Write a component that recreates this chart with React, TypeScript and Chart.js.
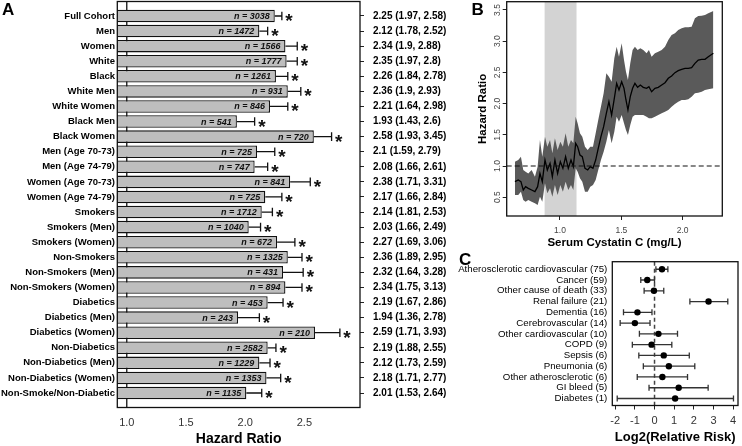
import React, { useEffect, useRef } from 'react';
import { Chart, registerables } from 'chart.js';

Chart.register(...registerables);

const FONT = '"Liberation Sans", Arial, Helvetica, sans-serif';

// ---------- Panel A ----------
const groups = [
  'Full Cohort', 'Men', 'Women', 'White', 'Black', 'White Men', 'White Women', 'Black Men', 'Black Women',
  'Men (Age 70-73)', 'Men (Age 74-79)', 'Women (Age 70-73)', 'Women (Age 74-79)', 'Smokers', 'Smokers (Men)',
  'Smokers (Women)', 'Non-Smokers', 'Non-Smokers (Men)', 'Non-Smokers (Women)', 'Diabetics', 'Diabetics (Men)',
  'Diabetics (Women)', 'Non-Diabetics', 'Non-Diabetics (Men)', 'Non-Diabetics (Women)', 'Non-Smoke/Non-Diabetic',
];
const groupN = [3038, 1472, 1566, 1777, 1261, 931, 846, 541, 720, 725, 747, 841, 725, 1712, 1040, 672, 1325, 431, 894, 453, 243, 210, 2582, 1229, 1353, 1135];
const hazardRatio = [2.25, 2.12, 2.34, 2.35, 2.26, 2.36, 2.21, 1.93, 2.58, 2.1, 2.08, 2.38, 2.17, 2.14, 2.03, 2.27, 2.36, 2.32, 2.34, 2.19, 1.94, 2.59, 2.19, 2.12, 2.18, 2.01];
const ciLower = [1.97, 1.78, 1.9, 1.97, 1.84, 1.9, 1.64, 1.43, 1.93, 1.59, 1.66, 1.71, 1.66, 1.81, 1.66, 1.69, 1.89, 1.64, 1.75, 1.67, 1.36, 1.71, 1.88, 1.73, 1.71, 1.53];
const ciUpper = [2.58, 2.52, 2.88, 2.8, 2.78, 2.93, 2.98, 2.6, 3.45, 2.79, 2.61, 3.31, 2.84, 2.53, 2.49, 3.06, 2.95, 3.28, 3.13, 2.86, 2.78, 3.93, 2.55, 2.59, 2.77, 2.64];
const errorTop = [2.31, 2.19, 2.44, 2.44, 2.36, 2.47, 2.36, 2.08, 2.73, 2.25, 2.19, 2.55, 2.31, 2.23, 2.13, 2.42, 2.48, 2.49, 2.48, 2.32, 2.12, 2.8, 2.26, 2.21, 2.3, 2.14];
const sigMarks = groups.map(() => '*');
const hrTicksA = [1.0, 1.5, 2.0, 2.5];

// ---------- Panel B ----------
const cystatin = [0.633, 0.660, 0.682, 0.701, 0.720, 0.742, 0.769, 0.796, 0.818, 0.837, 0.856, 0.878, 0.897, 0.919, 0.938, 0.959, 0.981, 1.003, 1.024, 1.046, 1.068, 1.090, 1.109, 1.128, 1.144, 1.163, 1.182, 1.204, 1.226, 1.247, 1.269, 1.291, 1.312, 1.334, 1.356, 1.378, 1.399, 1.421, 1.443, 1.462, 1.481, 1.503, 1.522, 1.538, 1.554, 1.573, 1.592, 1.611, 1.633, 1.655, 1.679, 1.706, 1.725, 1.747, 1.774, 1.801, 1.829, 1.856, 1.883, 1.910, 1.937, 1.964, 1.992, 2.019, 2.046, 2.073, 2.100, 2.127, 2.155, 2.182, 2.209, 2.250];
const hrCurve = [0.75, 0.776, 0.75, 0.615, 0.669, 0.642, 0.615, 0.589, 0.669, 0.882, 0.75, 1.096, 0.936, 1.043, 0.829, 1.096, 0.882, 1.069, 0.963, 1.15, 0.963, 1.096, 0.989, 1.363, 1.31, 1.176, 1.15, 0.963, 0.936, 0.989, 0.963, 1.096, 1.283, 1.47, 1.63, 1.844, 2.031, 1.817, 2.084, 2.325, 2.218, 2.351, 2.245, 2.058, 1.897, 2.111, 2.245, 2.325, 2.261, 2.298, 2.261, 2.245, 2.271, 2.191, 2.245, 2.261, 2.298, 2.335, 2.405, 2.442, 2.496, 2.528, 2.549, 2.565, 2.565, 2.576, 2.645, 2.699, 2.709, 2.709, 2.752, 2.806];
const hrCurveUpper = [1.069, 1.096, 1.15, 0.936, 0.909, 0.882, 0.936, 0.829, 0.989, 1.417, 1.15, 1.47, 1.31, 1.417, 1.203, 1.443, 1.256, 1.39, 1.31, 1.524, 1.31, 1.417, 1.363, 1.791, 1.684, 1.524, 1.47, 1.31, 1.256, 1.31, 1.31, 1.524, 1.737, 1.951, 2.165, 2.485, 2.432, 2.351, 2.725, 2.912, 2.752, 2.966, 2.699, 2.512, 2.378, 2.645, 2.859, 2.912, 2.859, 2.886, 2.859, 2.806, 2.859, 2.752, 2.806, 2.832, 2.859, 2.912, 3.019, 3.099, 3.126, 3.179, 3.206, 3.222, 3.222, 3.233, 3.366, 3.404, 3.409, 3.42, 3.447, 3.484];
const hrCurveLower = [0.535, 0.535, 0.589, 0.455, 0.428, 0.455, 0.428, 0.402, 0.375, 0.509, 0.428, 0.722, 0.562, 0.642, 0.509, 0.696, 0.535, 0.696, 0.589, 0.749, 0.615, 0.696, 0.615, 0.963, 0.909, 0.802, 0.749, 0.589, 0.589, 0.669, 0.696, 0.776, 0.936, 1.096, 1.23, 1.39, 1.577, 1.363, 1.55, 1.791, 1.71, 1.817, 1.684, 1.577, 1.497, 1.657, 1.791, 1.817, 1.817, 1.817, 1.817, 1.791, 1.764, 1.764, 1.791, 1.817, 1.844, 1.871, 1.897, 1.951, 1.994, 2.031, 2.058, 2.058, 2.068, 2.111, 2.165, 2.175, 2.191, 2.218, 2.229, 2.245];
const refRange = [0.875, 1.135];
const cysTicks = [1.0, 1.5, 2.0];
const hrTicksB = [0.5, 1.0, 1.5, 2.0, 2.5, 3.0, 3.5];
const hrRefLine = 1.0;

// ---------- Panel C ----------
const causes = [
  'Atherosclerotic cardiovascular (75)', 'Cancer (59)', 'Other cause of death (33)', 'Renal failure (21)',
  'Dementia (16)', 'Cerebrovascular (14)', 'Other cardiovascular (10)', 'COPD (9)', 'Sepsis (6)',
  'Pneumonia (6)', 'Other atherosclerotic (6)', 'GI bleed (5)', 'Diabetes (1)',
];
const log2RR = [0.38, -0.37, -0.03, 2.75, -0.87, -1.0, 0.2, -0.15, 0.47, 0.73, 0.4, 1.23, 1.05];
const log2Lo = [0.07, -0.7, -0.53, 1.8, -1.58, -1.75, -0.77, -1.13, -0.8, -0.57, -0.88, -0.28, -1.9];
const log2Hi = [0.68, 0.0, 0.47, 3.73, -0.13, -0.23, 1.17, 0.88, 1.77, 2.05, 1.68, 2.73, 4.02];
const log2Ticks = [-2, -1, 0, 1, 2, 3, 4];
const log2Ref = 0;

const ciLabels = hazardRatio.map((v, i) => `${v} (${ciLower[i]}, ${ciUpper[i]})`);

const fixV = (w: number) => (s: any) => { s.width = w; s.paddingTop = 0; s.paddingBottom = 0; };
const fixH = (h: number) => (s: any) => { s.height = h; s.paddingLeft = 0; s.paddingRight = 0; };

function buildA(canvas: HTMLCanvasElement) {
  const plugin = {
    id: 'panelA',
    beforeDatasetsDraw(chart: any) {
      const { ctx, chartArea: a, scales } = chart;
      const px = scales.x.getPixelForValue(1.0);
      ctx.save();
      ctx.strokeStyle = '#111';
      ctx.lineWidth = 1.3;
      ctx.beginPath();
      ctx.moveTo(px, a.top);
      ctx.lineTo(px, a.bottom);
      ctx.stroke();
      ctx.restore();
    },
    afterDatasetsDraw(chart: any) {
      const { ctx, chartArea: a, scales } = chart;
      const x = scales.x, y = scales.y;
      ctx.save();
      groups.forEach((_, i) => {
        const yc = y.getPixelForValue(i + 1);
        const xe = x.getPixelForValue(hazardRatio[i]);
        const xc = x.getPixelForValue(errorTop[i]);
        ctx.strokeStyle = '#111';
        ctx.lineWidth = 1.3;
        ctx.beginPath();
        ctx.moveTo(xe, yc);
        ctx.lineTo(xc, yc);
        ctx.moveTo(xc, yc - 4.3);
        ctx.lineTo(xc, yc + 4.3);
        ctx.stroke();
        ctx.fillStyle = '#111';
        ctx.font = `italic bold 9px ${FONT}`;
        ctx.textAlign = 'right';
        ctx.textBaseline = 'middle';
        ctx.fillText(`n = ${groupN[i]}`, xe - 5, yc + 0.5);
        ctx.font = `bold 19px ${FONT}`;
        ctx.textAlign = 'left';
        ctx.textBaseline = 'alphabetic';
        ctx.fillText(sigMarks[i], xc + 3.5, yc + 11);
      });
      ctx.strokeStyle = '#111';
      ctx.lineWidth = 1.3;
      ctx.strokeRect(a.left, a.top, a.right - a.left, a.bottom - a.top);
      ctx.restore();
    },
  };
  const rowTicks = (s: any) => { s.ticks = groups.map((_, i) => ({ value: i + 1 })); };
  return new Chart(canvas, {
    type: 'bar',
    data: {
      datasets: [{
        data: hazardRatio.map((v, i) => ({ x: v, y: i + 1 })),
        backgroundColor: '#bebebe',
        borderColor: '#111',
        borderWidth: 1.3,
        borderSkipped: false,
        barPercentage: 0.83,
        categoryPercentage: 1,
      } as any],
    },
    options: {
      indexAxis: 'y',
      responsive: false,
      animation: false,
      layout: { padding: { top: 1.5, left: 0, right: 0, bottom: 0 } },
      plugins: { legend: { display: false }, tooltip: { enabled: false } },
      scales: {
        x: {
          type: 'linear', min: 0.92, max: 2.97,
          afterBuildTicks: (s: any) => { s.ticks = hrTicksA.map((v) => ({ value: v })); },
          afterFit: fixH(38.5),
          grid: { display: false, drawTicks: false }, border: { display: false },
          ticks: { callback: (v: any) => Number(v).toFixed(1), font: { family: FONT, size: 11 }, color: '#333', padding: 8.5 },
          title: { display: true, text: 'Hazard Ratio', font: { family: FONT, size: 14, weight: 'bold', lineHeight: 1 }, color: '#000', padding: 0 },
        },
        y: {
          type: 'linear', reverse: true, min: 0.04, max: 26.96, offset: false,
          afterBuildTicks: rowTicks,
          afterFit: fixV(117.3),
          grid: { display: false, drawTicks: false, offset: false }, border: { display: false },
          ticks: { autoSkip: false, callback: (v: any) => groups[v - 1] ?? '', font: { family: FONT, size: 9.5, weight: 'bold' }, color: '#000', padding: 2.3 },
        },
        y2: {
          type: 'linear', position: 'right', reverse: true, min: 0.04, max: 26.96, offset: false,
          afterBuildTicks: rowTicks,
          afterFit: fixV(110),
          grid: { display: true, drawOnChartArea: false, drawTicks: true, tickLength: 4, color: '#222', lineWidth: 1, offset: false },
          border: { display: false },
          ticks: { autoSkip: false, callback: (v: any) => ciLabels[v - 1] ?? '', font: { family: FONT, size: 10, weight: 'bold' }, color: '#000', padding: 9 },
        },
      },
    } as any,
    plugins: [plugin],
  });
}

function buildB(canvas: HTMLCanvasElement) {
  const plugin = {
    id: 'panelB',
    beforeDatasetsDraw(chart: any) {
      const { ctx, chartArea: a, scales } = chart;
      const x0 = scales.x.getPixelForValue(refRange[0]);
      const x1 = scales.x.getPixelForValue(refRange[1]);
      ctx.save();
      ctx.fillStyle = '#d3d3d3';
      ctx.fillRect(x0, a.top, x1 - x0, a.bottom - a.top);
      ctx.restore();
    },
    afterDatasetsDraw(chart: any) {
      const { ctx, chartArea: a, scales } = chart;
      const py = scales.y.getPixelForValue(hrRefLine);
      ctx.save();
      ctx.strokeStyle = '#111';
      ctx.lineWidth = 1.2;
      ctx.setLineDash([5, 3]);
      ctx.beginPath();
      ctx.moveTo(a.left, py);
      ctx.lineTo(a.right, py);
      ctx.stroke();
      ctx.setLineDash([]);
      ctx.lineWidth = 1.3;
      ctx.strokeRect(a.left, a.top, a.right - a.left, a.bottom - a.top);
      ctx.fillStyle = '#444';
      ctx.font = `8.5px ${FONT}`;
      ctx.textAlign = 'center';
      ctx.textBaseline = 'middle';
      hrTicksB.forEach((v) => {
        ctx.save();
        ctx.translate(57.5, scales.y.getPixelForValue(v));
        ctx.rotate(-Math.PI / 2);
        ctx.fillText(v.toFixed(1), 0, 0);
        ctx.restore();
      });
      ctx.restore();
    },
  };
  return new Chart(canvas, {
    type: 'line',
    data: {
      datasets: [
        { data: cystatin.map((x, i) => ({ x, y: hrCurve[i] })), borderColor: '#000', borderWidth: 1.3, pointRadius: 0, fill: false, tension: 0, order: 0 },
        { data: cystatin.map((x, i) => ({ x, y: hrCurveLower[i] })), borderColor: 'rgba(0,0,0,0)', borderWidth: 0, pointRadius: 0, fill: false, order: 2 },
        { data: cystatin.map((x, i) => ({ x, y: hrCurveUpper[i] })), borderColor: 'rgba(0,0,0,0)', borderWidth: 0, pointRadius: 0, fill: '-1', backgroundColor: '#5a5a5a', order: 1 },
      ] as any,
    },
    options: {
      responsive: false,
      animation: false,
      layout: { padding: { top: 1.7, right: 19.7, left: 0, bottom: 0 } },
      plugins: { legend: { display: false }, tooltip: { enabled: false } },
      scales: {
        x: {
          type: 'linear', min: 0.566, max: 2.323,
          afterBuildTicks: (s: any) => { s.ticks = cysTicks.map((v) => ({ value: v })); },
          afterFit: fixH(34),
          grid: { display: true, drawOnChartArea: false, tickLength: 4, color: '#222' },
          border: { display: false },
          ticks: { callback: (v: any) => Number(v).toFixed(1), font: { family: FONT, size: 8.5 }, color: '#444', padding: 6 },
          title: { display: true, text: 'Serum Cystatin C (mg/L)', font: { family: FONT, size: 11.5, weight: 'bold' }, color: '#000', padding: 0 },
        },
        y: {
          type: 'linear', min: 0.199, max: 3.633,
          afterBuildTicks: (s: any) => { s.ticks = hrTicksB.map((v) => ({ value: v })); },
          afterFit: fixV(66.7),
          grid: { display: true, drawOnChartArea: false, tickLength: 4, color: '#222' },
          border: { display: false },
          ticks: { display: false },
          title: { display: true, text: 'Hazard Ratio', font: { family: FONT, size: 11.5, weight: 'bold' }, color: '#000', padding: { top: 36, bottom: 0 } },
        },
      },
    } as any,
    plugins: [plugin],
  });
}

function buildC(canvas: HTMLCanvasElement) {
  const plugin = {
    id: 'panelC',
    beforeDatasetsDraw(chart: any) {
      const { ctx, chartArea: a, scales } = chart;
      const x = scales.x, y = scales.y;
      ctx.save();
      const p0 = x.getPixelForValue(log2Ref);
      ctx.strokeStyle = '#444';
      ctx.lineWidth = 1.5;
      ctx.setLineDash([4, 3]);
      ctx.beginPath();
      ctx.moveTo(p0, a.top);
      ctx.lineTo(p0, a.bottom);
      ctx.stroke();
      ctx.setLineDash([]);
      ctx.strokeStyle = '#333';
      ctx.lineWidth = 1.3;
      causes.forEach((_, i) => {
        const yc = y.getPixelForValue(i + 1);
        const xl = x.getPixelForValue(log2Lo[i]);
        const xh = x.getPixelForValue(log2Hi[i]);
        ctx.beginPath();
        ctx.moveTo(xl, yc);
        ctx.lineTo(xh, yc);
        ctx.moveTo(xl, yc - 3);
        ctx.lineTo(xl, yc + 3);
        ctx.moveTo(xh, yc - 3);
        ctx.lineTo(xh, yc + 3);
        ctx.stroke();
      });
      ctx.restore();
    },
    afterDraw(chart: any) {
      const { ctx, chartArea: a } = chart;
      ctx.save();
      ctx.strokeStyle = '#111';
      ctx.lineWidth = 1.3;
      ctx.strokeRect(a.left, a.top, a.right - a.left, a.bottom - a.top);
      ctx.restore();
    },
  };
  return new Chart(canvas, {
    type: 'scatter',
    data: {
      datasets: [{
        data: log2RR.map((v, i) => ({ x: v, y: i + 1 })),
        pointRadius: 3.2,
        backgroundColor: '#000',
        borderColor: '#000',
        borderWidth: 0,
      }],
    },
    options: {
      responsive: false,
      animation: false,
      layout: { padding: { top: 11.7, right: 2, left: 0, bottom: 0 } },
      plugins: { legend: { display: false }, tooltip: { enabled: false } },
      scales: {
        x: {
          type: 'linear', min: -2.15, max: 4.25,
          afterBuildTicks: (s: any) => { s.ticks = log2Ticks.map((v) => ({ value: v })); },
          afterFit: fixH(40.5),
          grid: { display: true, drawOnChartArea: false, tickLength: 4, color: '#222' },
          border: { display: false },
          ticks: { callback: (v: any) => String(v), font: { family: FONT, size: 11 }, color: '#333', padding: 4.5 },
          title: { display: true, text: 'Log2(Relative Risk)', font: { family: FONT, size: 13, weight: 'bold' }, color: '#000', padding: { top: 0, bottom: 1.2 } },
        },
        y: {
          type: 'linear', reverse: true, min: 0.3, max: 13.65,
          afterBuildTicks: (s: any) => { s.ticks = causes.map((_, i) => ({ value: i + 1 })); },
          afterFit: fixV(172.3),
          grid: { display: false, drawTicks: false }, border: { display: false },
          ticks: { autoSkip: false, callback: (v: any) => causes[v - 1] ?? '', font: { family: FONT, size: 9.7 }, color: '#000', padding: 5 },
        },
      },
    } as any,
    plugins: [plugin],
  });
}

const letterStyle: React.CSSProperties = {
  position: 'absolute', fontFamily: FONT, fontWeight: 'bold', fontSize: 17, lineHeight: '17px', color: '#000',
};

export default function App() {
  const refA = useRef<HTMLCanvasElement>(null);
  const refB = useRef<HTMLCanvasElement>(null);
  const refC = useRef<HTMLCanvasElement>(null);
  useEffect(() => {
    const charts = [buildA(refA.current!), buildB(refB.current!), buildC(refC.current!)];
    return () => charts.forEach((c) => c.destroy());
  }, []);
  return (
    <div style={{ position: 'absolute', left: 0, top: 0, width: 742, height: 446, background: '#fff', overflow: 'hidden' }}>
      <canvas ref={refA} width={470} height={446} style={{ position: 'absolute', left: 0, top: 0, width: 470, height: 446 }} />
      <canvas ref={refB} width={302} height={250} style={{ position: 'absolute', left: 440, top: 0, width: 302, height: 250 }} />
      <canvas ref={refC} width={302} height={196} style={{ position: 'absolute', left: 440, top: 250, width: 302, height: 196 }} />
      <div style={{ ...letterStyle, left: 2, top: 1 }}>A</div>
      <div style={{ ...letterStyle, left: 471.5, top: 1 }}>B</div>
      <div style={{ ...letterStyle, left: 459, top: 251 }}>C</div>
    </div>
  );
}
